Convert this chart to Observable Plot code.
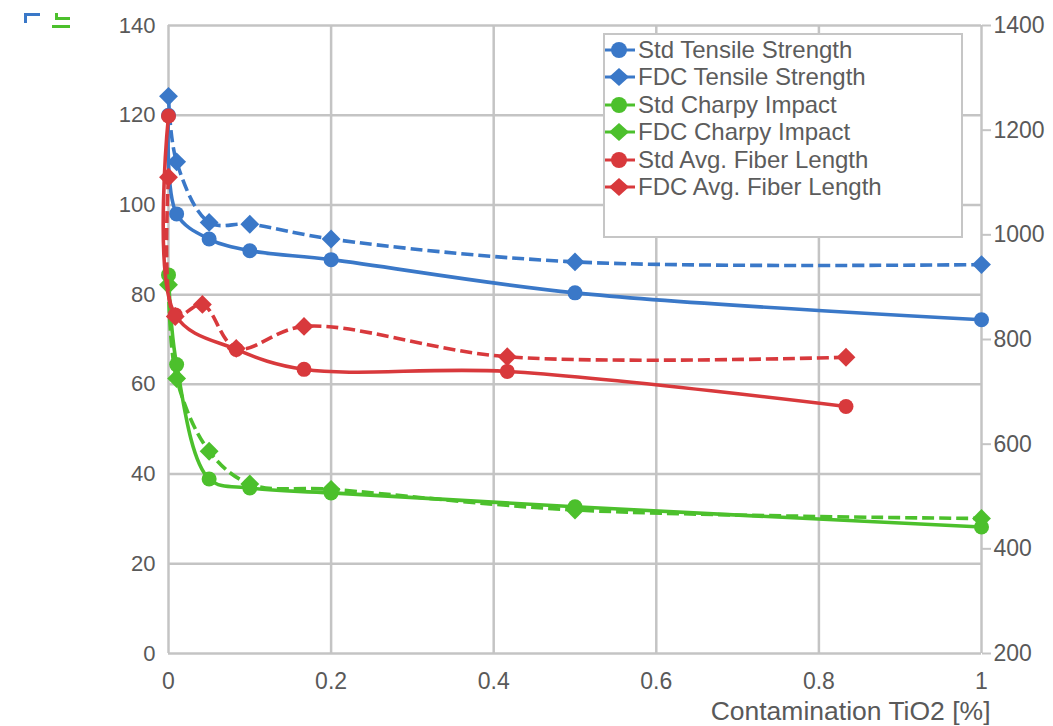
<!DOCTYPE html>
<html><head><meta charset="utf-8">
<script src="https://cdn.jsdelivr.net/npm/d3@7"></script>
<script src="https://cdn.jsdelivr.net/npm/@observablehq/plot@0.6"></script>
<style>
body{margin:0;background:#fff;font-family:"Liberation Sans",Arial,sans-serif;}
#wrap{position:relative;width:1053px;height:726px;overflow:hidden;}
#legend{position:absolute;left:603px;top:33px;width:356px;height:201px;border:2px solid #c6c6c6;background:#fff;}
.row{position:absolute;left:0;height:27px;display:flex;align-items:center;font-size:24px;color:#5c5c5c;white-space:nowrap;}
.row svg{margin-right:3px;}
.ic{position:absolute;}
</style>
</head><body>
<div id="wrap"></div>
<script>
// ---- data ----
const xMain = [0, 0.01, 0.05, 0.1, 0.2, 0.5, 1];
const stdTensile = [120, 98, 92.4, 89.8, 87.8, 80.4, 74.4];
const fdcTensile = [124.2, 109.6, 96.1, 95.7, 92.4, 87.3, 86.7];
const stdCharpy = [84.4, 64.4, 38.9, 36.9, 35.8, 32.7, 28.2];
const fdcCharpy = [82.2, 61.3, 45.1, 37.8, 36.6, 32.0, 30.1];
const xStdFiber = [0, 0.0083, 0.0833, 0.1667, 0.4167, 0.8333];
const stdFiber = [1227, 847, 781, 743, 739, 672];
const xFdcFiber = [0, 0.0083, 0.0417, 0.0833, 0.1667, 0.4167, 0.8333];
const fdcFiber = [1110, 844, 867, 783, 825, 767, 766];
const xTicks = [0, 0.2, 0.4, 0.6, 0.8, 1];
const leftTicks = [0, 20, 40, 60, 80, 100, 120, 140];
const rightTicks = [200, 400, 600, 800, 1000, 1200, 1400];
const seriesNames = ["Std Tensile Strength","FDC Tensile Strength","Std Charpy Impact","FDC Charpy Impact","Std Avg. Fiber Length","FDC Avg. Fiber Length"];
const xLabel = "Contamination TiO2 [%]";

// ---- styling ----
const C = {blue:"#3a78c8", green:"#4cc02c", red:"#d8393c"};
const textCol = "#595959";
const gridCol = "#c4c4c4";
const toLeft = r => (r - 200) * 140 / 1200;
const toRight = l => String(Math.round(200 + l * 1200 / 140));

const mk = (xs, ys, conv) => xs.map((x, i) => ({x, y: conv ? toLeft(ys[i]) : ys[i]}));
const series = [
  {name: seriesNames[0], data: mk(xMain, stdTensile), color: C.blue, symbol: "circle", dash: null},
  {name: seriesNames[1], data: mk(xMain, fdcTensile), color: C.blue, symbol: "diamond2", dash: "12,5"},
  {name: seriesNames[2], data: mk(xMain, stdCharpy), color: C.green, symbol: "circle", dash: null},
  {name: seriesNames[3], data: mk(xMain, fdcCharpy), color: C.green, symbol: "diamond2", dash: "12,5"},
  {name: seriesNames[4], data: mk(xStdFiber, stdFiber, true), color: C.red, symbol: "circle", dash: null},
  {name: seriesNames[5], data: mk(xFdcFiber, fdcFiber, true), color: C.red, symbol: "diamond2", dash: "12,5"}
];

const marks = [
  Plot.gridY(leftTicks, {stroke: gridCol, strokeOpacity: 1, strokeWidth: 2.5}),
  Plot.gridX(xTicks, {stroke: gridCol, strokeOpacity: 1, strokeWidth: 2.5}),
  Plot.axisY(leftTicks, {anchor: "left", tickSize: 0, tickPadding: 13, fontSize: 22, fill: textCol, label: null, tickFormat: d => String(d)}),
  Plot.axisY(rightTicks.map(toLeft), {anchor: "right", tickSize: 9, tickPadding: 3, stroke: gridCol, strokeWidth: 2, fontSize: 23, fill: textCol, label: null, tickFormat: toRight}),
  Plot.axisX(xTicks, {tickSize: 0, tickPadding: 19, fontSize: 23, fill: textCol, label: null, tickFormat: d => String(d)}),
  Plot.text([xLabel], {frameAnchor: "bottom-right", dy: 66, dx: 9, textAnchor: "end", fontSize: 26.5, fill: textCol})
];
for (const s of series) {
  marks.push(Plot.line(s.data, {x: "x", y: "y", stroke: s.color, strokeWidth: 3.6, curve: "catmull-rom", strokeDasharray: s.dash, strokeLinecap: "butt"}));
  marks.push(Plot.dot(s.data, {x: "x", y: "y", fill: s.color, stroke: "none", symbol: s.symbol, r: s.symbol === "circle" ? 7.5 : 8.5}));
}

const chart = Plot.plot({
  width: 1053, height: 726,
  marginLeft: 168, marginRight: 72, marginTop: 25, marginBottom: 73,
  style: {fontFamily: '"Liberation Sans", Arial, sans-serif', background: "#fff"},
  x: {domain: [0, 1], axis: null},
  y: {domain: [0, 140], axis: null},
  marks
});
const wrap = document.getElementById("wrap");
wrap.appendChild(chart);

// small clipped axis-title fragments in the top-left corner
const icons = [
  [24, 13, 16, 3, C.blue], [24, 13, 3, 10, C.blue],
  [55, 13, 3, 4, C.green], [55, 17, 15, 3, C.green], [52, 25, 18, 3, C.green]
];
for (const [l, t, w, h, c] of icons) {
  const d = document.createElement("div");
  d.className = "ic";
  Object.assign(d.style, {left: l + "px", top: t + "px", width: w + "px", height: h + "px", background: c});
  wrap.appendChild(d);
}

// legend
const leg = document.createElement("div");
leg.id = "legend";
series.forEach((s, i) => {
  const row = document.createElement("div");
  row.className = "row";
  row.style.top = (1 + i * 27.5) + "px";
  const sym = s.symbol === "circle"
    ? `<circle cx="14" cy="13" r="8" fill="${s.color}"/>`
    : `<path d="M14 4 L24 13 L14 22 L4 13 Z" fill="${s.color}"/>`;
  row.innerHTML = `<svg width="30" height="26"><line x1="0" y1="13" x2="30" y2="13" stroke="${s.color}" stroke-width="3"/>${sym}</svg><span>${s.name}</span>`;
  leg.appendChild(row);
});
wrap.appendChild(leg);
</script>
</body></html>
